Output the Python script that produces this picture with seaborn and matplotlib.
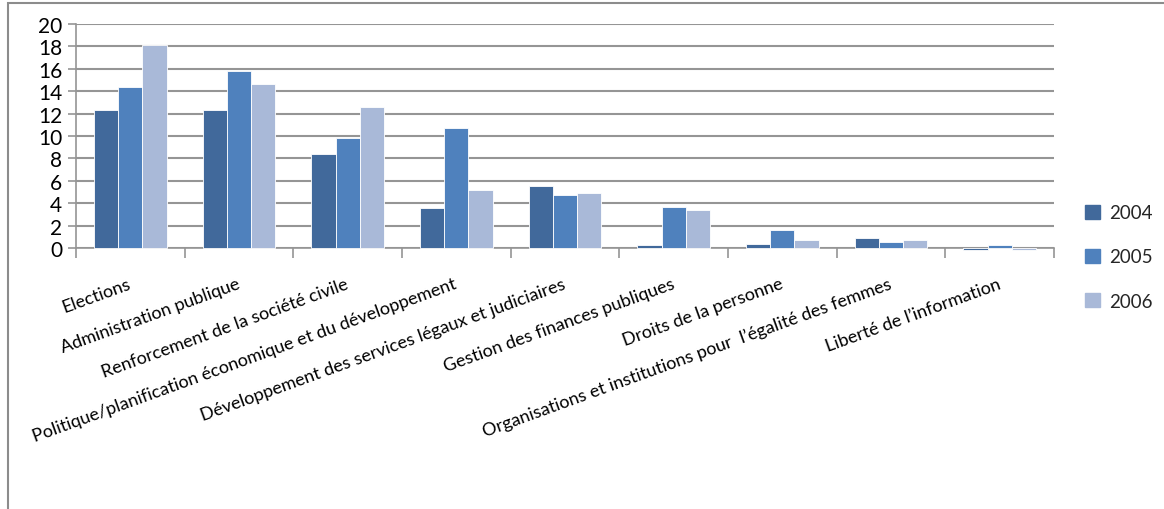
import matplotlib
matplotlib.use("Agg")
import matplotlib.pyplot as plt
import matplotlib.patches as mpatches
import seaborn as sns
import pandas as pd
import numpy as np

categories = [
    "Elections",
    "Administration publique",
    "Renforcement de la société civile",
    "Politique/planification économique et du développement",
    "Développement des services légaux et judiciaires",
    "Gestion des finances publiques",
    "Droits de la personne",
    "Organisations et institutions pour  l\u2019égalité des femmes",
    "Liberté de l\u2019information",
]
years = ["2004", "2005", "2006"]
v2004 = [12.3, 12.3, 8.4, 3.6, 5.5, 0.25, 0.4, 0.9, -0.18]
v2005 = [14.4, 15.8, 9.8, 10.7, 4.7, 3.7, 1.65, 0.55, 0.25]
v2006 = [18.1, 14.6, 12.6, 5.2, 4.9, 3.4, 0.7, 0.7, -0.2]
colors = ["#41699B", "#4F81BD", "#A9B9D8"]

df = pd.DataFrame({
    "cat": categories * 3,
    "year": [y for y in years for _ in categories],
    "val": v2004 + v2005 + v2006,
})

sns.set_theme(style="white")
plt.rcParams["font.family"] = ["Lato", "DejaVu Sans"]

fig = plt.figure(figsize=(11.64, 5.10), dpi=100)
ax = fig.add_axes([76/1164, 1-249/510, (1054-76)/1164, (249-25)/510])

sns.barplot(data=df, x="cat", y="val", hue="year", palette=colors,
            width=0.67, ax=ax, legend=False, edgecolor="white", linewidth=0.6,
            saturation=1)
for p in ax.patches:
    p.set_clip_on(False)

ax.set_xlim(-0.5, len(categories) - 0.5)
ax.set_ylim(0, 20)
ax.set_yticks(np.arange(0, 21, 2))
ax.set_yticklabels([str(v) for v in range(0, 21, 2)], fontsize=15)
ax.yaxis.grid(True, color="#959595", linewidth=1.5)
ax.set_axisbelow(True)
ax.set_xlabel("")
ax.set_ylabel("")

for s in ["top", "right"]:
    ax.spines[s].set_visible(False)
for s in ["left", "bottom"]:
    ax.spines[s].set_color("#959595")
    ax.spines[s].set_linewidth(1.2)
    ax.spines[s].set_zorder(0.5)

ax.tick_params(axis="y", which="major", length=6, color="#959595", width=1.2,
               left=True, pad=4, labelcolor="black")
ax.set_xticks(range(len(categories)))
ax.set_xticklabels([])
ax.tick_params(axis="x", which="major", length=0)
ax.set_xticks(np.arange(-0.5, len(categories), 1.0), minor=True)
ax.tick_params(axis="x", which="minor", length=7, color="#959595", width=1.2,
               bottom=True)
for i, c in enumerate(categories):
    ax.annotate(c, xy=(i, 0), xycoords=("data", "axes fraction"),
                xytext=(0, -25), textcoords="offset points",
                rotation=20, rotation_mode="anchor", ha="right", va="center",
                fontsize=13, color="black")

handles = [mpatches.Patch(color=c, label=y) for c, y in zip(colors, years)]
fig.legend(handles=handles, loc="center left", bbox_to_anchor=(1068/1164, 1-258/510),
           frameon=False, fontsize=13.5, handlelength=0.8, handleheight=0.8,
           labelspacing=1.45, handletextpad=0.5)

fig.patches.append(mpatches.Rectangle((8/1164, -0.1), 1.2, 1 - 4/510 + 0.1,
                                      transform=fig.transFigure, fill=False,
                                      edgecolor="#8c8c8c", linewidth=1.5))

fig.savefig("out.png", dpi=100)
